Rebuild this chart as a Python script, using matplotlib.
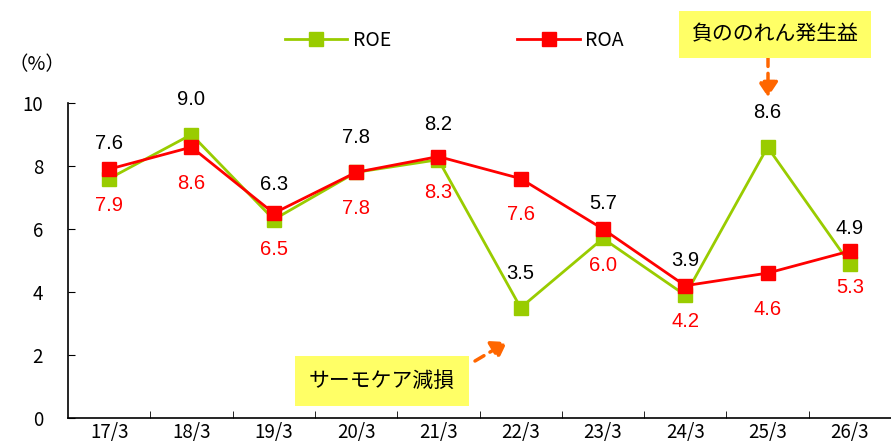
import matplotlib
matplotlib.use('Agg')
import matplotlib.pyplot as plt
from matplotlib.patches import FancyArrowPatch
import numpy as np

plt.rcParams['font.family'] = ['Noto Sans CJK JP', 'DejaVu Sans']

years = ['17/3', '18/3', '19/3', '20/3', '21/3', '22/3', '23/3', '24/3', '25/3', '26/3']
roe = [7.6, 9.0, 6.3, 7.8, 8.2, 3.5, 5.7, 3.9, 8.6, 4.9]
roa = [7.9, 8.6, 6.5, 7.8, 8.3, 7.6, 6.0, 4.2, 4.6, 5.3]

green = '#99CC00'
red = '#FF0000'

fig = plt.figure(figsize=(8.91, 4.42), dpi=100)
ax = fig.add_axes([68/891, 24/442, 823/891, 315/442])

x = np.arange(len(years))
ax.plot(x, roe, color=green, lw=2, marker='s', ms=10, label='ROE', zorder=3)
ax.plot(x, roa, color=red, lw=2, marker='s', ms=10, label='ROA', zorder=4)

# value labels: ROE above (black), ROA below (red)
for i in range(len(years)):
    ax.annotate(f'{roe[i]:.1f}', (x[i], roe[i]), xytext=(0, 25), textcoords='offset points',
                ha='center', va='center', fontsize=14.5, color='black', family='Liberation Sans')
    ax.annotate(f'{roa[i]:.1f}', (x[i], roa[i]), xytext=(0, -26), textcoords='offset points',
                ha='center', va='center', fontsize=14.5, color=red, family='Liberation Sans')

ax.set_xlim(-0.5, len(years) - 0.5)
ax.set_ylim(0, 10)
ax.set_yticks(range(0, 11, 2))
ax.set_xticks(x)
ax.set_xticklabels(years)
ax.set_xticks(np.arange(0.5, len(years) - 0.5), minor=True)
ax.tick_params(axis='x', which='major', length=0, pad=3, labelsize=13.5)
ax.tick_params(axis='x', which='minor', direction='in', length=5)
ax.tick_params(axis='y', direction='in', length=5, pad=18, labelsize=13.5)
for s in ['top', 'right']:
    ax.spines[s].set_visible(False)
ax.spines['left'].set_linewidth(1.2)
ax.spines['bottom'].set_linewidth(1.2)

fig.text(8/891, 1 - 65/442, '（%）', fontsize=14, va='center', ha='left')

fig.legend(loc='center', bbox_to_anchor=(0.51, 1 - 40/442), ncol=2, frameon=False,
           fontsize=14, columnspacing=6.5, handlelength=3.2, handletextpad=0.3)

# annotation boxes
fig.text(775/891, 1 - 34/442, '負ののれん発生益', fontsize=15, ha='center', va='center',
         bbox=dict(boxstyle='square,pad=0.6', fc='#FFFF66', ec='none'))
fig.add_artist(FancyArrowPatch((768/891, 1 - 56/442), (768/891, 1 - 97/442),
                               transform=fig.transFigure, shrinkA=0, shrinkB=0,
                               arrowstyle='-|>,head_width=6,head_length=9',
                               linestyle=(0, (3, 2)), color='#FF6600', lw=2.5))
fig.text(382/891, 1 - 381/442, 'サーモケア減損', fontsize=15, ha='center', va='center',
         bbox=dict(boxstyle='square,pad=0.65', fc='#FFFF66', ec='none'))
fig.add_artist(FancyArrowPatch((475/891, 1 - 361/442), (507/891, 1 - 342/442),
                               transform=fig.transFigure, shrinkA=0, shrinkB=0,
                               arrowstyle='-|>,head_width=6,head_length=9',
                               linestyle=(0, (3, 2)), color='#FF6600', lw=2.5))

fig.savefig('out.png', dpi=100)
